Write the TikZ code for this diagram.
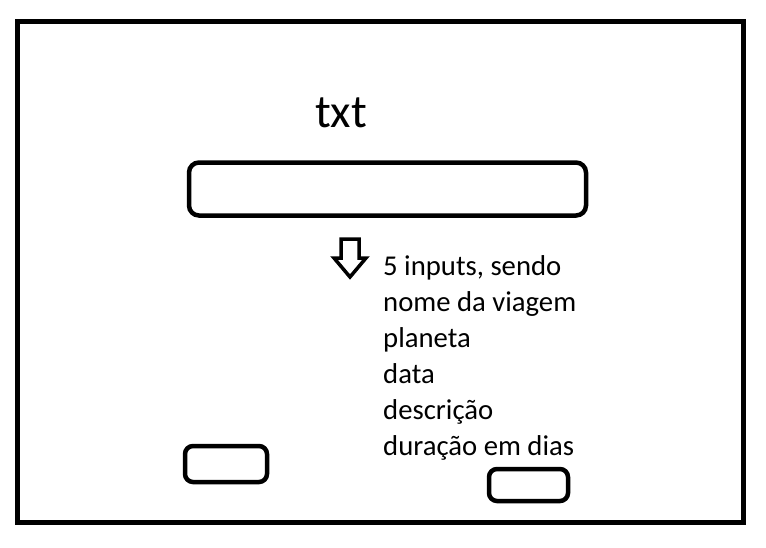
\documentclass[tikz,border=0pt]{standalone}
\usepackage{fontspec}
\setmainfont{Carlito}
\usetikzlibrary{positioning}

\begin{document}
\begin{tikzpicture}[
    x=1pt, y=-1pt,
    frame/.style={draw, line width=5pt},
    field/.style={draw, line width=4.5pt, rounded corners=10pt, inner sep=0pt,
                  minimum width=397pt, minimum height=53pt},
    btn/.style={draw, line width=4.5pt, rounded corners=8pt, inner sep=0pt},
    arrowshape/.style={draw, line width=3.5pt, line join=miter},
    title/.style={font=\fontsize{47}{47}\selectfont, inner sep=0pt},
    notes/.style={font=\fontsize{28.7}{36}\selectfont, align=left, inner sep=0pt},
  ]
  \useasboundingbox (0,0) rectangle (766,547);
  \draw[frame] (17.5,21.5) rectangle (743.5,522.5);

  \node[title, anchor=base west] (txt) at (315,127) {txt};
  \node[field] (input) at (387.5,189) {};

  % hollow arrow pointing down
  \draw[arrowshape] (341,239) -- (359,239) -- (359,258) -- (366,258)
    -- (350,277) -- (334,258) -- (341,258) -- cycle;

  \node[notes, anchor=base west] (info) at (383,455)
    {5 inputs, sendo\\nome da viagem\\planeta\\data\\descrição\\duração em dias};

  \node[btn, minimum width=82pt, minimum height=36pt] (left) at (226,464) {};
  \node[btn, minimum width=79pt, minimum height=32pt] (right) at (528.5,485) {};
\end{tikzpicture}
\end{document}
